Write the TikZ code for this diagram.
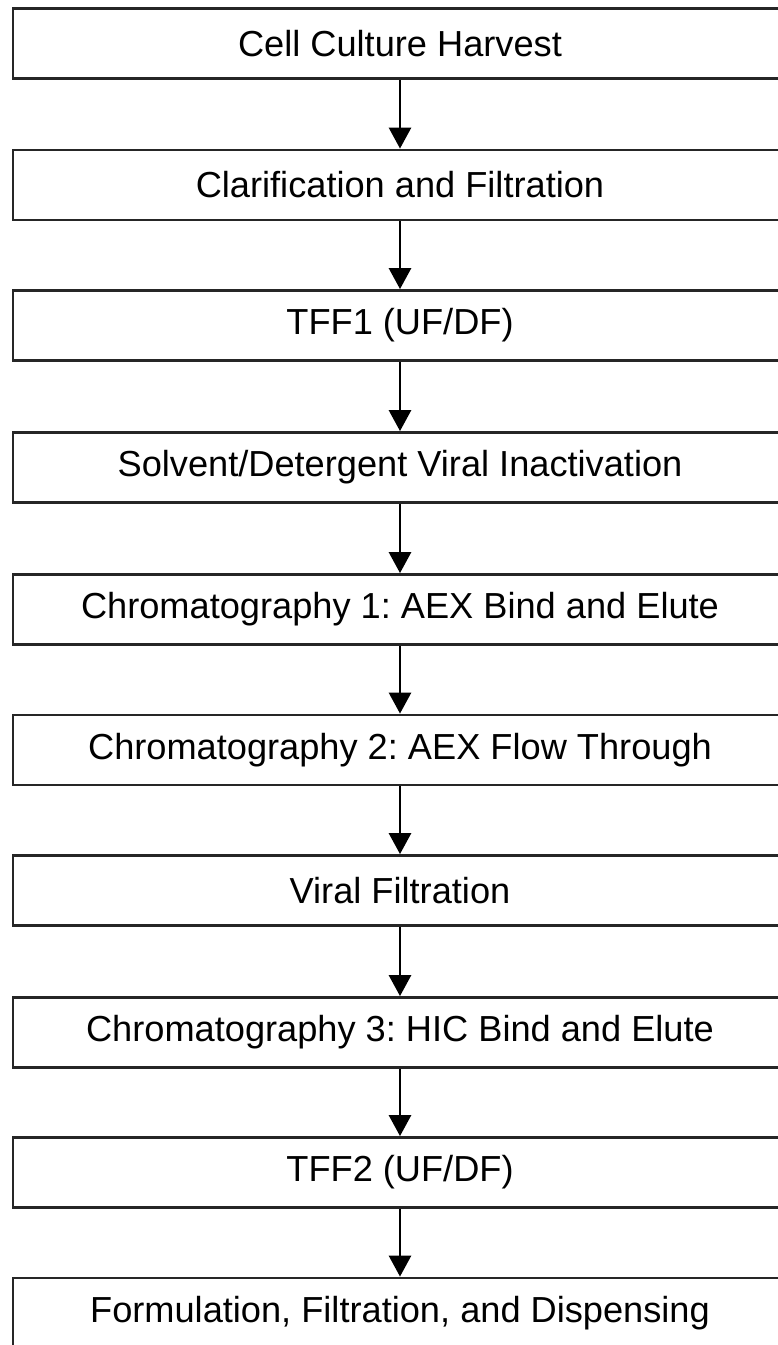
\documentclass[tikz,border=0pt]{standalone}
\usepackage{fontspec}
\setmainfont{Liberation Sans}
\frenchspacing
\usetikzlibrary{arrows.meta}
\tikzset{
    stepbox/.style={draw=black!85, line width=1.6pt, minimum width=15.48cm,
        minimum height=1.4cm, inner sep=0pt, font=\fontsize{20.6}{24}\selectfont},
    flow/.style={line width=1.6pt, -{Triangle[width=0.44cm,length=0.42cm]}},
}
\begin{document}
\begin{tikzpicture}
        % Rahmen
        \useasboundingbox (0,0) rectangle (15.56,-26.9);
        \clip (0,0) rectangle (15.56,-26.9);
        % Prozessschritte
        \node[stepbox] (harvest) at (8,-0.87) {Cell Culture Harvest};
        \node[stepbox] (clar) at (8,-3.70) {Clarification and Filtration};
        \node[stepbox] (tffa) at (8,-6.51) {TFF1 (UF/DF)};
        \node[stepbox] (inact) at (8,-9.35) {Solvent/Detergent Viral Inactivation};
        \node[stepbox] (chroma) at (8,-12.19) {Chromatography 1: AEX Bind and Elute};
        \node[stepbox] (chromb) at (8,-15.00) {Chromatography 2: AEX Flow Through};
        \node[stepbox] (virfil) at (8,-17.81) {Viral Filtration};
        \node[stepbox] (chromc) at (8,-20.65) {Chromatography 3: HIC Bind and Elute};
        \node[stepbox] (tffb) at (8,-23.45) {TFF2 (UF/DF)};
        \node[stepbox] (form) at (8,-26.26) {Formulation, Filtration, and Dispensing};
        % Pfeile
        \draw[flow] (harvest) -- (clar);
        \draw[flow] (clar) -- (tffa);
        \draw[flow] (tffa) -- (inact);
        \draw[flow] (inact) -- (chroma);
        \draw[flow] (chroma) -- (chromb);
        \draw[flow] (chromb) -- (virfil);
        \draw[flow] (virfil) -- (chromc);
        \draw[flow] (chromc) -- (tffb);
        \draw[flow] (tffb) -- (form);
    \end{tikzpicture}
\end{document}
